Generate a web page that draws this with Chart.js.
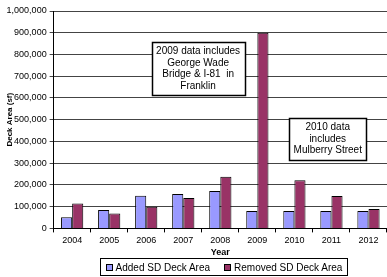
<!DOCTYPE html>
<html lang="en">
<head>
    <meta charset="UTF-8">
    <title>SD Deck Area</title>
    <script src="https://cdn.jsdelivr.net/npm/chart.js"></script>
    <style>
        html, body { margin: 0; padding: 0; background: white; }
        #wrap { width: 387px; height: 277px; position: relative; overflow: hidden; }
        #legend {
            position: absolute;
            left: 100px; top: 258px;
            width: 246px; height: 16px;
            border: 1px solid #000;
            display: flex; align-items: center; justify-content: center;
            gap: 14px;
            font: 10px "Liberation Sans", Arial, sans-serif;
            color: #000;
        }
        #legend span.item { display: flex; align-items: center; gap: 3px; }
        #legend span.box { width: 5px; height: 5px; border: 1px solid #000; display: inline-block; }
    </style>
</head>
<body>
    <div id="wrap">
        <canvas id="deckChart"></canvas>
        <div id="legend"></div>
    </div>
    <script>
        const years = ['2004', '2005', '2006', '2007', '2008', '2009', '2010', '2011', '2012'];
        const addedArea = [51000, 85000, 150000, 158000, 172000, 80000, 80000, 80000, 80000];
        const removedArea = [115000, 69000, 100000, 140000, 238000, 900000, 222000, 149000, 89000];

        // note boxes: anchored at category index / y value
        const notes = [
            { x: 3.4, y: 735000, w: 93, h: 53, lines: ['2009 data includes', 'George Wade', 'Bridge & I-81  in', 'Franklin'] },
            { x: 6.9, y: 412000, w: 77, h: 42, lines: ['2010 data', 'includes', 'Mulberry Street'] }
        ];

        const fontFamily = '"Liberation Sans", Arial, sans-serif';

        const notesPlugin = {
            id: 'notes',
            afterDatasetsDraw(chart) {
                const ctx = chart.ctx;
                const xs = chart.scales.x, ys = chart.scales.y;
                ctx.save();
                notes.forEach(n => {
                    const cx = xs.getPixelForValue(n.x);
                    const cy = ys.getPixelForValue(n.y);
                    const left = Math.round(cx - n.w / 2) + 0.5;
                    const top = Math.round(cy - n.h / 2) + 0.5;
                    ctx.fillStyle = 'white';
                    ctx.fillRect(left, top, n.w, n.h);
                    ctx.strokeStyle = '#000';
                    ctx.lineWidth = 1.5;
                    ctx.strokeRect(left, top, n.w, n.h);
                    ctx.fillStyle = '#000';
                    ctx.font = '10px ' + fontFamily;
                    ctx.textAlign = 'center';
                    ctx.textBaseline = 'middle';
                    const lh = 11.5;
                    const start = cy - (n.lines.length - 1) * lh / 2;
                    n.lines.forEach((t, i) => ctx.fillText(t, cx, start + i * lh));
                });
                ctx.restore();
            }
        };

        const chart = new Chart(document.getElementById('deckChart'), {
            type: 'bar',
            data: {
                labels: years,
                datasets: [{
                    label: 'Added SD Deck Area',
                    data: addedArea,
                    backgroundColor: '#9999FF',
                    borderColor: '#000',
                    borderWidth: 1
                }, {
                    label: 'Removed SD Deck Area',
                    data: removedArea,
                    backgroundColor: '#993366',
                    borderColor: '#000',
                    borderWidth: 1
                }]
            },
            options: {
                responsive: true,
                maintainAspectRatio: false,
                animation: false,
                layout: { padding: { left: 0, right: -2, top: 11, bottom: 19 } },
                datasets: { bar: { categoryPercentage: 0.6, barPercentage: 1.0 } },
                plugins: {
                    tooltip: { enabled: false },
                    legend: { display: false }
                },
                scales: {
                    x: {
                        grid: { drawOnChartArea: false, drawTicks: true, tickLength: 4, color: '#000' },
                        border: { color: '#000' },
                        ticks: { color: '#000', padding: 3, font: { family: fontFamily, size: 9 } },
                        title: { display: true, text: 'Year', color: '#000', padding: { top: -2, bottom: 0 },
                                 font: { family: fontFamily, size: 9, weight: 'bold' } }
                    },
                    y: {
                        min: 0,
                        max: 1000000,
                        grid: { color: '#444', tickLength: 4 },
                        border: { color: '#000' },
                        ticks: {
                            stepSize: 100000,
                            color: '#000',
                            padding: 3,
                            font: { family: fontFamily, size: 9 },
                            callback: v => v.toLocaleString('en-US')
                        },
                        title: { display: true, text: 'Deck Area (sf)', color: '#000', padding: { top: 5, bottom: -11 },
                                 font: { family: fontFamily, size: 8, weight: 'bold' } }
                    }
                }
            },
            plugins: [notesPlugin]
        });

        // legend built from the datasets
        document.getElementById('legend').innerHTML = chart.data.datasets.map(ds =>
            `<span class="item"><span class="box" style="background:${ds.backgroundColor}"></span>${ds.label}</span>`
        ).join('');
    </script>
</body>
</html>
